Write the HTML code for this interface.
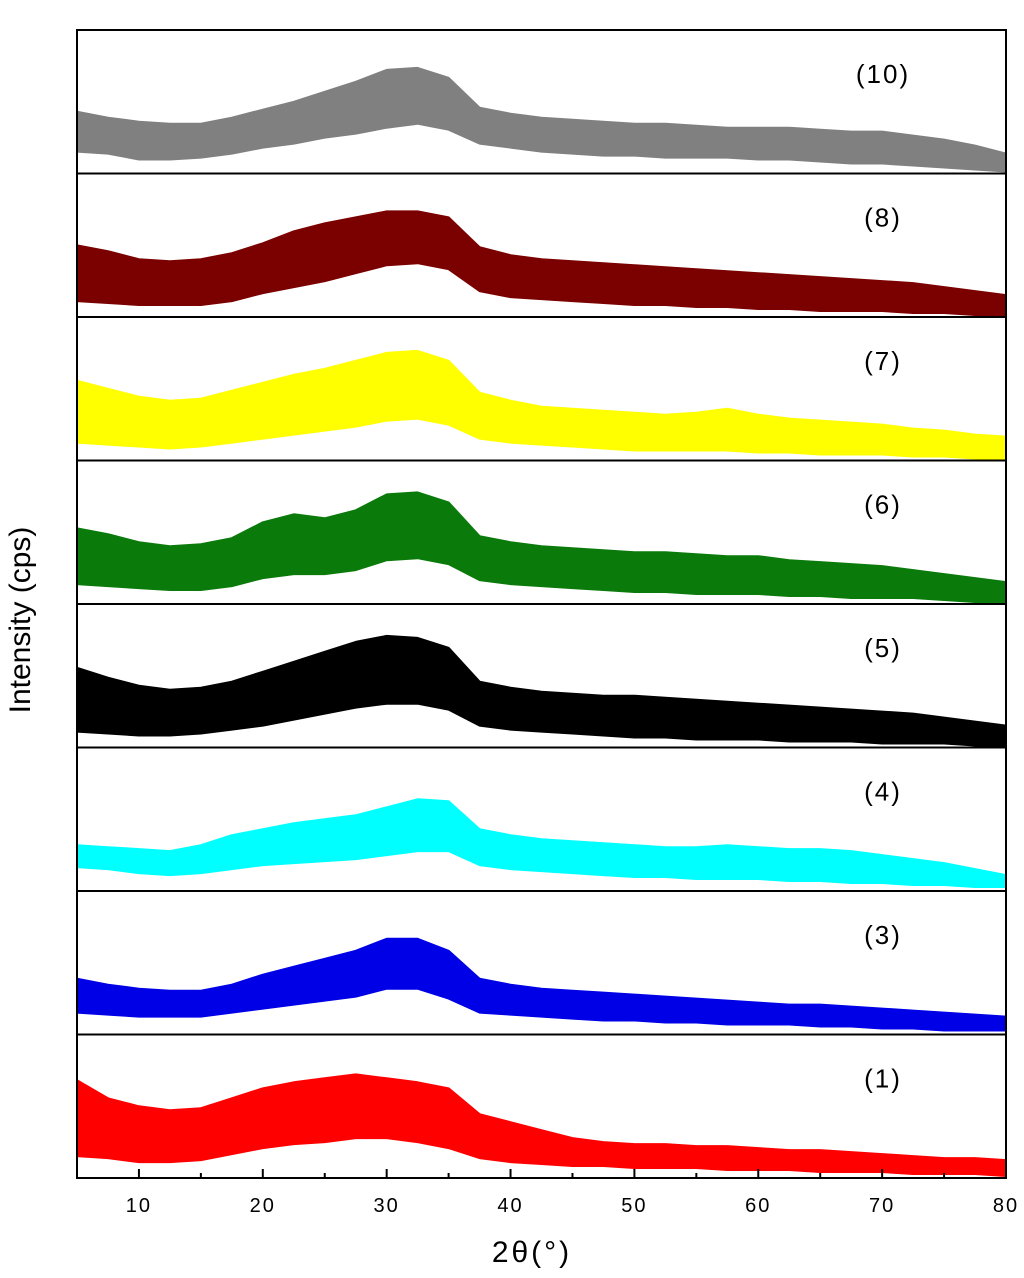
<!DOCTYPE html>
<html><head><meta charset="utf-8"><style>
body{margin:0;background:#fff;}
svg{display:block;font-family:"Liberation Sans",Arial,sans-serif;}
</style></head><body>
<svg id="chart" width="1024" height="1278" viewBox="0 0 1024 1278" xmlns="http://www.w3.org/2000/svg">
<g id="panels"></g>
<g id="axis"></g>
<text x="0" y="0" transform="translate(30,620) rotate(-90)" text-anchor="middle" font-size="30" fill="#000">Intensity (cps)</text>
<text x="532" y="1262" text-anchor="middle" font-size="30" fill="#000" letter-spacing="3">2θ(°)</text>
</svg>
<script>
const angles = [5,7.5,10,12.5,15,17.5,20,22.5,25,27.5,30,32.5,35,37.5,40,42.5,45,47.5,50,52.5,55,57.5,60,62.5,65,67.5,70,72.5,75,77.5,80];
const seriesNames = ["(10)","(8)","(7)","(6)","(5)","(4)","(3)","(1)"];
const seriesColors = ["#808080","#7b0000","#ffff00","#0a7a0a","#000000","#00ffff","#0000e6","#ff0000"];
const hi10 = [62,56,52,50,50,56,64,72,82,92,104,106,96,66,60,56,54,52,50,50,48,46,46,46,44,42,42,38,34,28,20];
const lo10 = [22,20,14,14,16,20,26,30,36,40,46,50,44,30,26,22,20,18,18,16,16,16,14,14,12,10,10,8,6,4,2];
const hi8 = [72,66,58,56,58,64,74,86,94,100,106,106,100,70,62,58,56,54,52,50,48,46,44,42,40,38,36,34,30,26,22];
const lo8 = [16,14,12,12,12,16,24,30,36,44,52,54,48,26,20,18,16,14,12,12,10,10,8,8,6,6,6,4,4,2,2];
const hi7 = [80,72,64,60,62,70,78,86,92,100,108,110,100,68,60,54,52,50,48,46,48,52,46,42,40,38,36,32,30,26,24];
const lo7 = [18,16,14,12,14,18,22,26,30,34,40,42,36,22,18,16,14,12,10,10,10,10,8,8,6,6,6,4,4,2,2];
const hi6 = [76,70,62,58,60,66,82,90,86,94,110,112,102,68,62,58,56,54,52,52,50,48,48,44,42,40,38,34,30,26,22];
const lo6 = [20,18,16,14,14,18,26,30,30,34,44,46,40,24,20,18,16,14,12,12,10,10,10,8,8,6,6,6,4,2,2];
const hi5 = [80,70,62,58,60,66,76,86,96,106,112,110,100,66,60,56,54,52,52,50,48,46,44,42,40,38,36,34,30,26,22];
const lo5 = [16,14,12,12,14,18,22,28,34,40,44,44,38,22,18,16,14,12,10,10,8,8,8,6,6,6,4,4,4,2,2];
const hi4 = [46,44,42,40,46,56,62,68,72,76,84,92,90,62,56,52,50,48,46,44,44,46,44,42,42,40,36,32,28,22,16];
const lo4 = [24,22,18,16,18,22,26,28,30,32,36,40,40,26,22,20,18,16,14,14,12,12,12,10,10,8,8,6,6,4,4];
const hi3 = [56,50,46,44,44,50,60,68,76,84,96,96,84,56,50,46,44,42,40,38,36,34,32,30,30,28,26,24,22,20,18];
const lo3 = [22,20,18,18,18,22,26,30,34,38,46,46,36,22,20,18,16,14,14,12,12,10,10,10,8,8,6,6,4,4,4];
const hi1 = [98,80,72,68,70,80,90,96,100,104,100,96,90,64,56,48,40,36,34,34,32,32,30,28,28,26,24,22,20,20,18];
const lo1 = [22,20,16,16,18,24,30,34,36,40,40,36,30,20,16,14,12,12,10,10,10,8,8,8,6,6,6,4,4,4,2];
const xTicks = [10,20,30,40,50,60,70,80];
const minorTicks = [5,15,25,35,45,55,65,75];

const HIS=[hi10,hi8,hi7,hi6,hi5,hi4,hi3,hi1];
const LOS=[lo10,lo8,lo7,lo6,lo5,lo4,lo3,lo1];
const NS="http://www.w3.org/2000/svg";
const L=77,R=1006,T=30,B=1178;
const PH=(B-T)/seriesNames.length;
function xs(v){return L+(v-5)/75*(R-L);}
function ys(i,v){return T+(i+1)*PH-v*(PH/144);}
const panels=document.getElementById('panels');
seriesNames.forEach((name,i)=>{
  const g=document.createElementNS(NS,'g');
  
  
  const rect=document.createElementNS(NS,'rect');
  rect.setAttribute('x',L);rect.setAttribute('y',T+i*PH);
  rect.setAttribute('width',R-L);rect.setAttribute('height',PH);
  rect.setAttribute('fill','none');rect.setAttribute('stroke','#000');rect.setAttribute('stroke-width','2');
  
  
  const hi=HIS[i],lo=LOS[i];
  let pts=[];
  angles.forEach((a,k)=>pts.push(xs(a).toFixed(1)+','+ys(i,hi[k]).toFixed(1)));
  for(let k=angles.length-1;k>=0;k--)pts.push(xs(angles[k]).toFixed(1)+','+ys(i,lo[k]).toFixed(1));
  const poly=document.createElementNS(NS,'polygon');
  poly.setAttribute('points',pts.join(' '));
  poly.setAttribute('fill',seriesColors[i]);
  poly.setAttribute('stroke',seriesColors[i]);
  poly.setAttribute('stroke-width','2');
  poly.setAttribute('stroke-linejoin','round');
  
  
  g.appendChild(poly);
  g.appendChild(rect);
  const t=document.createElementNS(NS,'text');
  t.setAttribute('x',883);t.setAttribute('y',T+i*PH+PH*0.37);
  t.setAttribute('text-anchor','middle');t.setAttribute('font-size','26');
  t.setAttribute('letter-spacing','2');
  t.textContent=name;
  
  
  g.appendChild(t);
  panels.appendChild(g);
});
const ax=document.getElementById('axis');
xTicks.forEach(v=>{
  const l=document.createElementNS(NS,'line');
  l.setAttribute('x1',xs(v));l.setAttribute('x2',xs(v));l.setAttribute('y1',B);l.setAttribute('y2',B-9);
  l.setAttribute('stroke','#000');l.setAttribute('stroke-width','2');
  
  
  ax.appendChild(l);
  const t=document.createElementNS(NS,'text');
  t.setAttribute('x',xs(v));t.setAttribute('y',1212);t.setAttribute('text-anchor','middle');
  t.setAttribute('font-size','20');t.setAttribute('letter-spacing','2');
  t.textContent=v;
  
  
  ax.appendChild(t);
});
minorTicks.forEach(v=>{
  const l=document.createElementNS(NS,'line');
  l.setAttribute('x1',xs(v));l.setAttribute('x2',xs(v));l.setAttribute('y1',B);l.setAttribute('y2',B-5);
  l.setAttribute('stroke','#000');l.setAttribute('stroke-width','2');
  
  
  ax.appendChild(l);
});
</script>
</body></html>
